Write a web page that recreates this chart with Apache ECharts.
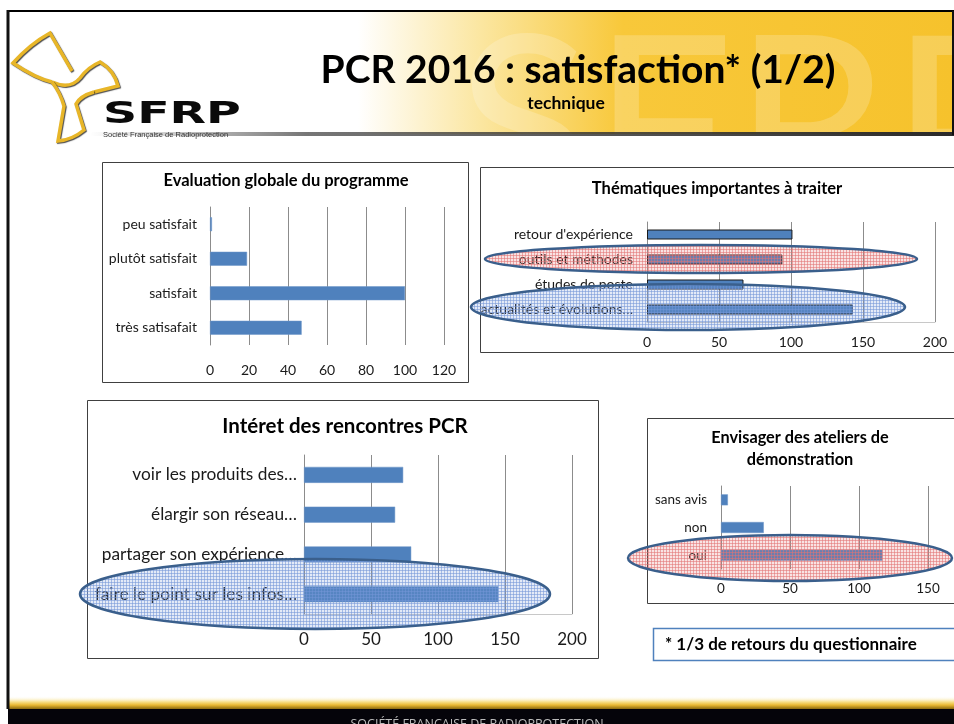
<!DOCTYPE html>
<html><head><meta charset="utf-8">
<script src="https://cdn.jsdelivr.net/npm/echarts@6/dist/echarts.min.js"></script>
<style>html,body{margin:0;padding:0;background:#fff}#c{width:954px;height:724px}</style>
</head><body><div id="c"></div><script>
// ---- data ----
const evalCats = ['peu satisfait', 'plutôt satisfait', 'satisfait', 'très satisafait'];
const evalVals = [1, 19, 100, 47];
const evalTicks = {min: 0, max: 120, interval: 20};

const themeCats = ["retour d'expérience", 'outils et méthodes', 'études de poste', 'actualités et évolutions…'];
const themeVals = [101, 94, 67, 143];
const themeTicks = {min: 0, max: 200, interval: 50};

const interetCats = ['voir les produits des…', 'élargir son réseau…', 'partager son expérience…', 'faire le point sur les infos…'];
const interetVals = [74, 68, 80, 145];
const interetTicks = {min: 0, max: 200, interval: 50};

const ateliersCats = ['sans avis', 'non', 'oui'];
const ateliersVals = [5, 31, 117];
const ateliersTicks = {min: 0, max: 150, interval: 50};

// ---- style ----
const FONT = 'Lato';
const BLUE = '#4F81BD';
const GRIDC = '#8c8c8c';

function hatch(r, g, b) {
  const c = document.createElement('canvas');
  c.width = c.height = 3;
  const x = c.getContext('2d');
  x.fillStyle = `rgba(${r},${g},${b},0.2)`;
  x.fillRect(0, 0, 3, 3);
  x.fillStyle = `rgba(${r},${g},${b},0.55)`;
  x.fillRect(0, 0, 3, 1);
  x.fillRect(0, 0, 1, 3);
  return c;
}
const redHatch = hatch(225, 115, 115);
const blueHatch = hatch(115, 150, 215);

const grids = [
  {left: 210, top: 207, width: 234, height: 138},
  {left: 647, top: 222, width: 288, height: 100},
  {left: 304, top: 455, width: 268, height: 159},
  {left: 721, top: 486, width: 207, height: 83}
];
const catsList = [evalCats, themeCats, interetCats, ateliersCats];
const valsList = [evalVals, themeVals, interetVals, ateliersVals];
const ticksList = [evalTicks, themeTicks, interetTicks, ateliersTicks];
const catFont = [14, 14, 17.3, 13.5];
const valFont = [14, 14, 17, 13.5];
const catMargin = [13, 14, 7, 14];
const valMargin = [18, 13, 17, 13];
const barW = [14, 10, 16, 11];
const bottomLine = [false, true, true, false];

const xAxis = [], yAxis = [], series = [];
for (let i = 0; i < 4; i++) {
  xAxis.push({
    gridIndex: i, type: 'value', min: ticksList[i].min, max: ticksList[i].max, interval: ticksList[i].interval,
    axisLine: {show: bottomLine[i], lineStyle: {color: '#c8c8c8'}}, axisTick: {show: false},
    splitLine: {show: true, lineStyle: {color: GRIDC, width: 1}},
    axisLabel: {color: '#1a1a1a', fontFamily: FONT, fontSize: valFont[i], margin: valMargin[i]}
  });
  yAxis.push({
    gridIndex: i, type: 'category', inverse: true, data: catsList[i],
    axisLine: {show: true, lineStyle: {color: GRIDC}}, axisTick: {show: false},
    axisLabel: {color: '#1a1a1a', fontFamily: FONT, fontSize: catFont[i], margin: catMargin[i], interval: 0}
  });
  series.push({
    type: 'bar', xAxisIndex: i, yAxisIndex: i, data: valsList[i], barWidth: barW[i],
    itemStyle: {color: BLUE, borderColor: i === 1 ? '#1a1a1a' : '#6f97c9', borderWidth: i === 1 ? 1 : 0.5},
    silent: true, animation: false
  });
}

function ellipsePath(cx, cy, rx, ry) {
  return `M ${cx - rx} ${cy} A ${rx} ${ry} 0 1 0 ${cx + rx} ${cy} A ${rx} ${ry} 0 1 0 ${cx - rx} ${cy} Z`;
}

// decorative paths (logo + highlight ellipses) drawn via a custom series in pixel space
const goldStroke = {fill: 'none', stroke: '#e8b628', lineWidth: 3.5, shadowColor: 'rgba(0,0,0,0.7)', shadowBlur: 1, shadowOffsetX: 1, shadowOffsetY: 1};
const estroke = '#3a5f8c';
const decoPaths = [
  {d: 'M 72 71 L 50 33 Q 30 44 13 63 Q 35 78 52 82', s: goldStroke},
  {d: 'M 52 82 Q 70 90 80 78 Q 88 67 100 62 Q 114 70 118 86 L 94 92', s: goldStroke},
  {d: 'M 94 92 Q 80 96 76 104 L 84 130 Q 72 140 58 141 L 64 106 Q 60 92 52 82', s: goldStroke},
  {d: ellipsePath(701, 259, 216, 14), s: {fill: {image: redHatch, repeat: 'repeat'}, stroke: estroke, lineWidth: 2.5}},
  {d: ellipsePath(688, 307, 217, 23), s: {fill: {image: blueHatch, repeat: 'repeat'}, stroke: estroke, lineWidth: 2.5}},
  {d: ellipsePath(315, 594, 235, 35), s: {fill: {image: blueHatch, repeat: 'repeat'}, stroke: estroke, lineWidth: 2.5}},
  {d: ellipsePath(790, 558, 162, 23), s: {fill: {image: redHatch, repeat: 'repeat'}, stroke: estroke, lineWidth: 2.5}}
];
series.push({
  type: 'custom', coordinateSystem: 'none', data: [0], silent: true, z: 20,
  renderItem: () => ({type: 'group', children: decoPaths.map(p => ({type: 'path', shape: {pathData: p.d}, style: p.s}))})
});

const g = [];
// header background
g.push({type: 'rect', shape: {x: 8, y: 12, width: 946, height: 122}, z: -3,
  style: {fill: new echarts.graphic.LinearGradient(0, 0, 1, 0, [
    {offset: 0, color: '#ffffff'}, {offset: 0.37, color: '#ffffff'},
    {offset: 0.5, color: '#fbe6a0'}, {offset: 0.65, color: '#f8c83a'}, {offset: 1, color: '#f6c22c'}])}});
// watermark (white on white outside the header, so it only shows on the gold band)
g.push({type: 'text', x: 456, y: 134, z: -2, style: {text: 'SFRP', font: '250px Lato', fill: 'rgba(255,255,255,0.2)', textVerticalAlign: 'middle'}});
// header shadow line
g.push({type: 'rect', shape: {x: 90, y: 132, width: 864, height: 4}, z: 3,
  style: {fill: new echarts.graphic.LinearGradient(0, 0, 1, 0, [
    {offset: 0, color: 'rgba(60,60,60,0)'}, {offset: 0.25, color: 'rgba(60,60,60,0.7)'}, {offset: 1, color: '#2a2a2a'}])}});
// frame
g.push({type: 'line', shape: {x1: 7, y1: 11, x2: 954, y2: 11}, z: 5, style: {stroke: '#000', lineWidth: 2}});
g.push({type: 'line', shape: {x1: 8, y1: 10, x2: 8, y2: 709}, z: 5, style: {stroke: '#111', lineWidth: 3}});
g.push({type: 'line', shape: {x1: 953, y1: 11, x2: 953, y2: 135}, z: 5, style: {stroke: '#111', lineWidth: 2}});
// title
g.push({type: 'text', x: 578, y: 70, z: 6, style: {text: 'PCR 2016 : satisfaction* (1/2)', font: 'bold 39px Lato', fill: '#000', textAlign: 'center', textVerticalAlign: 'middle'}});
g.push({type: 'text', x: 566, y: 103, z: 6, style: {text: 'technique', font: 'bold 17.5px Lato', fill: '#000', textAlign: 'center', textVerticalAlign: 'middle'}});
// logo text
g.push({type: 'group', x: 103, y: 130, scaleX: 1.53, z: 7, children: [
  {type: 'text', x: 0, y: 0, z: 7, style: {text: 'SFRP', font: 'bold 31px "DejaVu Sans"', fill: '#0a0a0a', textVerticalAlign: 'bottom'}}]});
g.push({type: 'text', x: 103, y: 135, z: 7, style: {text: 'Société Française de Radioprotection', font: '7.5px "Liberation Sans"', fill: '#333', textVerticalAlign: 'middle'}});

// chart boxes
[[102, 162, 366, 220], [480, 167, 476, 185], [87, 400, 511, 258], [647, 418, 310, 185]].forEach(b => {
  g.push({type: 'rect', z: 4, shape: {x: b[0] + 0.5, y: b[1] + 0.5, width: b[2], height: b[3]}, style: {fill: 'rgba(0,0,0,0)', stroke: '#404040', lineWidth: 1}});
});
// chart titles
g.push({type: 'text', x: 286, y: 181, z: 6, style: {text: 'Evaluation globale du programme', font: 'bold 16.5px Lato', fill: '#000', textAlign: 'center', textVerticalAlign: 'middle'}});
g.push({type: 'text', x: 717, y: 189, z: 6, style: {text: 'Thématiques importantes à traiter', font: 'bold 16.5px Lato', fill: '#000', textAlign: 'center', textVerticalAlign: 'middle'}});
g.push({type: 'text', x: 345, y: 426, z: 6, style: {text: 'Intéret des rencontres PCR', font: 'bold 20.5px Lato', fill: '#000', textAlign: 'center', textVerticalAlign: 'middle'}});
g.push({type: 'text', x: 800, y: 438, z: 6, style: {text: 'Envisager des ateliers de', font: 'bold 16.3px Lato', fill: '#000', textAlign: 'center', textVerticalAlign: 'middle'}});
g.push({type: 'text', x: 800, y: 460, z: 6, style: {text: 'démonstration', font: 'bold 16.3px Lato', fill: '#000', textAlign: 'center', textVerticalAlign: 'middle'}});

// footnote
g.push({type: 'rect', z: 4, shape: {x: 653.5, y: 628.5, width: 302, height: 32}, style: {fill: '#fff', stroke: BLUE, lineWidth: 1.5}});
g.push({type: 'text', x: 665, y: 645, z: 6, style: {text: '* 1/3 de retours du questionnaire', font: 'bold 17px Lato', fill: '#000', textVerticalAlign: 'middle'}});

// footer
g.push({type: 'rect', z: 4, shape: {x: 8, y: 696, width: 946, height: 13}, style: {fill: new echarts.graphic.LinearGradient(0, 0, 0, 1, [
  {offset: 0, color: 'rgba(255,255,255,0)'}, {offset: 0.45, color: '#f7e08a'}, {offset: 0.7, color: '#e9b832'}, {offset: 1, color: '#8a6a10'}])}});
g.push({type: 'rect', z: 5, shape: {x: 8, y: 709, width: 946, height: 15}, style: {fill: '#05040a'}});
g.push({type: 'text', x: 477, y: 718, z: 6, style: {text: 'SOCIÉTÉ FRANÇAISE DE RADIOPROTECTION', font: '12.5px "Open Sans"', fill: '#bbb', textAlign: 'center', textVerticalAlign: 'top'}});

const chart = echarts.init(document.getElementById('c'), null, {renderer: 'canvas'});
chart.setOption({
  animation: false,
  backgroundColor: '#fff',
  grid: grids.map(x => Object.assign({containLabel: false}, x)),
  xAxis, yAxis, series,
  graphic: {elements: g}
});
</script></body></html>
